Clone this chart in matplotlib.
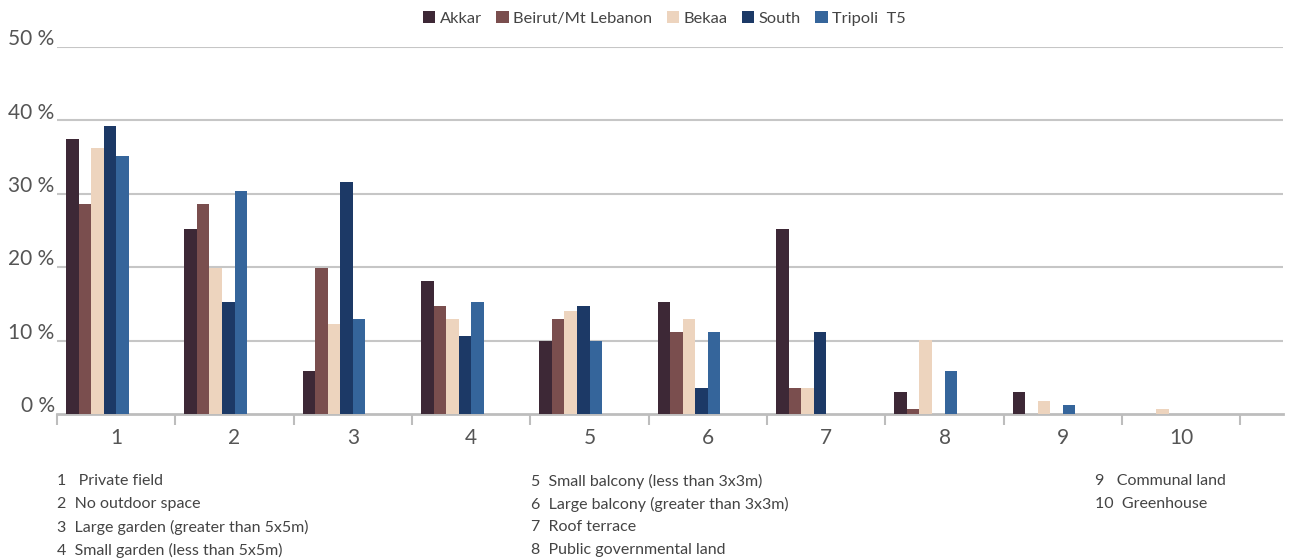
import matplotlib
matplotlib.use("Agg")
import matplotlib.pyplot as plt
from matplotlib.patches import Patch
import numpy as np

categories = ["1", "2", "3", "4", "5", "6", "7", "8", "9", "10"]
series_names = ["Akkar", "Beirut/Mt Lebanon", "Bekaa", "South", "Tripoli  T5"]
akkar   = [37.5, 25.2, 5.9, 18.1, 10.0, 15.3, 25.2, 3.0, 3.0, 0.0]
beirut  = [28.6, 28.6, 19.9, 14.7, 12.9, 11.2, 3.5, 0.7, 0.0, 0.0]
bekaa   = [36.2, 19.9, 12.3, 12.9, 14.0, 12.9, 3.5, 10.1, 1.8, 0.7]
south   = [39.2, 15.3, 31.6, 10.6, 14.7, 3.5, 11.2, 0.0, 0.0, 0.0]
tripoli = [35.1, 30.4, 12.9, 15.3, 10.0, 11.2, 0.0, 5.9, 1.2, 0.0]
series = [akkar, beirut, bekaa, south, tripoli]
colors = ["#3D2836", "#7A4E4E", "#EDD4BE", "#1C3966", "#35659B"]
y_ticks = [0, 10, 20, 30, 40, 50]
notes_col1 = ["1   Private field", "2  No outdoor space", "3  Large garden (greater than 5x5m)", "4  Small garden (less than 5x5m)"]
notes_col2 = ["5  Small balcony (less than 3x3m)", "6  Large balcony (greater than 3x3m)", "7  Roof terrace", "8  Public governmental land"]
notes_col3 = ["9   Communal land", "10  Greenhouse"]

FONT = ["Lato", "DejaVu Sans"]
TXT = "#555555"

fig = plt.figure(figsize=(12.9, 5.6), dpi=100)
ax = fig.add_axes([57/1290, 1-414/560, (1283-57)/1290, (414-47)/560])

x = np.arange(len(categories))
pad = 9/118.3
slots = 8
w = (1 - 2*pad) / slots
for k, (vals, c) in enumerate(zip(series, colors)):
    ax.bar(x - 0.5 + pad + k*w, vals, width=w, align="edge", color=c, linewidth=0, zorder=3)

ax.set_ylim(0, 50)
ax.set_xlim(-0.5, len(categories) - 0.5 + 0.36)
for yv in y_ticks[1:]:
    ax.axhline(yv, color="#c6c6c6", lw=1.5, zorder=1)
ax.set_yticks([])
for yv in y_ticks:
    ax.text(-0.52, yv - 0.3, f"{yv} %", ha="right", va="bottom", fontsize=15, color=TXT,
            family=FONT, fontweight="normal", transform=ax.transData)

for s in ["left", "right", "top"]:
    ax.spines[s].set_visible(False)
ax.spines["bottom"].set_color("#bdbdbd")
ax.spines["bottom"].set_linewidth(2)
ax.set_xticks(np.arange(len(categories) + 1) - 0.5, minor=False)
ax.set_xticklabels([])
ax.tick_params(axis="x", length=8, width=1.5, color="#bdbdbd", direction="out")
ax.set_xticks(x, minor=True)
ax.set_xticklabels(categories, minor=True, fontsize=15, color=TXT, family=FONT, fontweight="normal")
ax.tick_params(axis="x", which="minor", length=0, pad=10)

handles = [Patch(facecolor=c, edgecolor="none") for c in colors]
fig.legend(handles, series_names, loc="center", bbox_to_anchor=(0.515, 0.967), ncol=5, frameon=False,
           handlelength=0.75, handleheight=0.75, handletextpad=0.25, columnspacing=0.9,
           prop={"family": FONT, "size": 11.8}, labelcolor="#444444")

rows = [481, 504, 527, 550]
for col, xpx in [(notes_col1, 57), (notes_col2, 531), (notes_col3, 1095)]:
    for t, ypx in zip(col, rows):
        fig.text(xpx/1290, 1-ypx/560, t, ha="left", va="center", fontsize=11.5, color="#444444", family=FONT)

fig.savefig("out.png", dpi=100)
